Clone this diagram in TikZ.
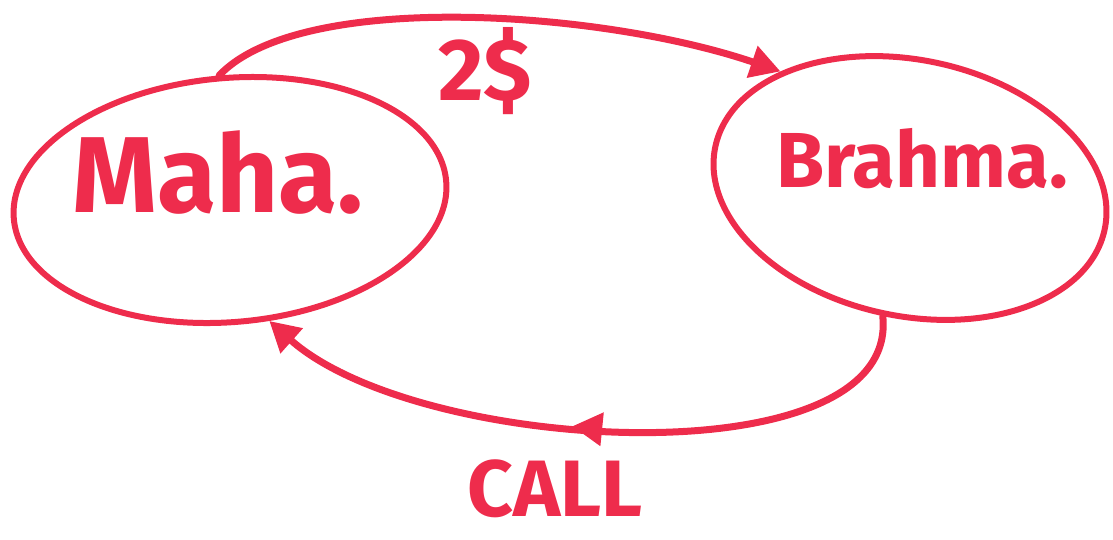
\documentclass[tikz,border=0pt]{standalone}
\usepackage{fontspec}
\setmainfont{Fira Sans}
\usetikzlibrary{shapes.geometric,arrows.meta,decorations.markings}
\definecolor{ink}{RGB}{238,44,76}
\tikzset{
  bubble/.style={ellipse, draw=ink, line width=6pt, inner sep=0pt},
  conn/.style={draw=ink, line width=7pt, line cap=round},
  tipA/.style={-{Triangle[length=30pt,width=32pt]}},
  hand/.style={text=ink, font=\bfseries, inner sep=0pt, anchor=base},
}
\begin{document}
\begin{tikzpicture}[x=1pt,y=-1pt]
\useasboundingbox (0,0) rectangle (1113,539);
\node[bubble, minimum width=434pt, minimum height=244pt, rotate=5] (maha) at (230,200) {};
\node[bubble, minimum width=398pt, minimum height=256pt, rotate=-12] (brahma) at (910,188) {};
\node[hand, font=\bfseries\fontsize{108}{118}\selectfont] (mahatext) at (218,212) {Maha.};
\node[hand, font=\bfseries\fontsize{78}{86}\selectfont] (brahmatext) at (922,187) {Brahma.};
\node[hand, font=\bfseries\fontsize{88}{96}\selectfont] (price) at (485,100) {2\$};
\node[hand, font=\bfseries\fontsize{80}{88}\selectfont] (call) at (555,516) {CALL};
\draw[conn, tipA] (maha.north) .. controls (300,-10) and (600,10) .. (brahma.150);
\draw[conn, tipA, postaction={decorate}, decoration={markings, mark=at position 0.53 with {\arrow{Triangle[length=30pt,width=32pt]}}}]
  (brahma.south) .. controls (900,480) and (420,455) .. (maha.-77);
\end{tikzpicture}
\end{document}
